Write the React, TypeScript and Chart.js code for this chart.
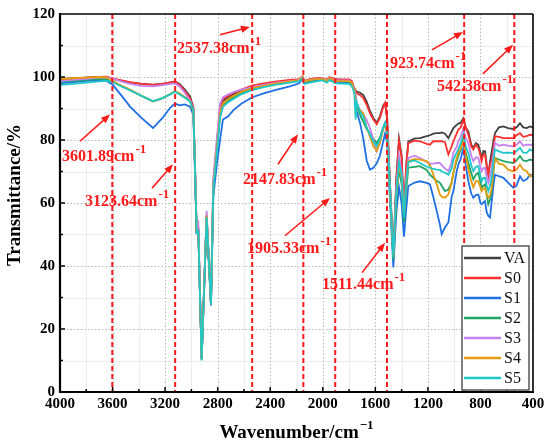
import React, { useEffect, useRef } from 'react';
import { Chart, registerables } from 'chart.js';

Chart.register(...registerables);

// ---------- data ----------
const WAVENUMBER = [
  4000, 3900, 3800, 3700, 3650, 3600, 3530, 3467, 3380, 3292, 3220, 3160, 3125, 3090, 3050, 3010, 2985,
  2973, 2960, 2947, 2922, 2884, 2851, 2833, 2807, 2782, 2760, 2720, 2680, 2620, 2540, 2450, 2350, 2250, 2180, 2155, 2140, 2100, 2050, 2000, 1970, 1950, 1900, 1850,
  1800, 1780, 1760, 1750, 1742, 1717, 1692, 1666, 1641, 1615, 1590, 1565, 1540, 1526, 1510, 1490, 1463, 1440, 1420, 1400, 1382, 1365, 1349,
  1300, 1260, 1209, 1184, 1159, 1133, 1108, 1095, 1070, 1044, 1019, 1006, 981, 968, 950, 930, 912, 892, 870, 854, 835, 816, 800, 791, 778, 765, 752, 740, 727, 714, 700, 689, 660, 625, 590, 549, 525, 499, 475, 448, 423, 400,
];

const VA = [
  99.3, 99.6, 99.8, 100, 100, 99.4, 98.8, 98.3, 97.8, 97.6, 97.8, 98.3, 98.6, 97.8, 96.0, 93.8, 90.3,
  72, 51, 51.5, 10.5, 56, 28, 66, 78, 90, 92.5, 93.5, 94.5, 95.5, 96.5, 97.3, 98, 98.5, 99, 100, 98.6, 99.2, 99.5, 99.6, 99, 99.8, 99.2, 99.1,
  99, 98.6, 96.5, 95.8, 95.4, 95, 94.3, 92.2, 89.2, 87, 85.5, 87.5, 91, 91.8, 87, 68, 43.5, 68, 80.5, 75, 56, 72, 79.5,
  80.5, 80.6, 81.2, 81.5, 82, 82.2, 82.2, 82.4, 82, 80.6, 82.7, 83.8, 84.8, 85.2, 85.5, 86.9, 84, 82.7, 78.5, 77.5, 79, 78.5, 76, 74.3, 76.5, 76.4, 72, 69, 73, 76.4, 80, 82.2, 84, 84.3, 83.8, 83.5, 84, 85.3, 84, 83.8, 84.3, 84,
];

const S0 = [
  99.2, 99.5, 99.8, 100, 100.1, 99.6, 98.9, 98.4, 97.8, 97.5, 97.8, 98.3, 98.5, 97.5, 95.5, 93.3, 90.2,
  72, 51, 51.5, 10.5, 56, 28, 66.5, 78.5, 90.5, 93, 94, 95, 96, 97.3, 98, 98.6, 99.1, 99.3, 100.2, 98.8, 99.3, 99.6, 99.7, 99.1, 99.9, 99.3, 99.2,
  99.2, 98.8, 96.4, 95.5, 94.8, 94.3, 93.3, 91.2, 88.5, 86.5, 85, 87, 90.5, 91.7, 86.5, 67, 43, 67, 79.6, 74.5, 56, 71.5, 79,
  79.8, 79.6, 78.8, 78.5, 79.6, 79.6, 79.6, 79.6, 79.3, 75.4, 78, 79.6, 82, 83.3, 84, 86.4, 84, 81.7, 78, 77, 78.5, 77.5, 75, 73.3, 75.5, 75.4, 71.5, 69, 72.5, 73.3, 78, 81.2, 81, 80.6, 80.6, 80.6, 81.5, 82.2, 81, 81.2, 81.7, 81.5,
];

const S1 = [
  98.0, 98.4, 98.8, 99.0, 98.8, 97.6, 94.0, 90.6, 87.0, 83.8, 87.0, 90.3, 91.6, 91.0, 91.3, 90.6, 88.0,
  70, 50.5, 50.5, 10.3, 55, 27.5, 62, 72, 80, 86.5, 87.5, 89.5, 91.5, 93.5, 94.8, 96, 97, 98, 99.5, 98, 98.6, 99, 99.3, 98.6, 99.4, 98.5, 98.3,
  98.3, 97.5, 95.5, 93, 89, 85.5, 80.5, 73.5, 70.6, 71.2, 72.5, 75, 79.5, 82, 79, 62, 39.5, 57, 65, 60, 49.3, 58, 65.4,
  66.5, 66.9, 66.4, 65.9, 62, 57.5, 53, 50.1, 52.2, 53.8, 62, 63.8, 70, 72.2, 74, 77.5, 72, 66.9, 63, 61.7, 62.5, 62.7, 60, 59.6, 60.2, 60.6, 57, 55.9, 55.4, 60.6, 66, 69, 68.5, 68, 66.5, 64.8, 65.5, 68.5, 67, 67.5, 69, 68.5,
];

const S2 = [
  98.5, 98.8, 99.1, 99.4, 99.3, 98.5, 97.0, 95.8, 94.0, 92.3, 93.3, 94.6, 95.4, 94.6, 93.6, 92.5, 89.0,
  72, 51, 51, 10.3, 56, 28, 65, 76.5, 88, 91, 92.5, 93.5, 94.8, 96, 97, 97.8, 98.5, 98.9, 99.9, 98.4, 98.8, 99.2, 99.4, 98.7, 99.5, 98.7, 98.6,
  98.5, 97.8, 96, 93, 91, 88, 85.8, 83.4, 82.2, 80.5, 79, 80.8, 84, 85.4, 82, 65, 42, 62, 70.5, 66, 54, 64, 71.2,
  71.5, 71.7, 70.5, 69, 68, 67, 66.4, 65.5, 63.8, 64.3, 66.5, 69.6, 73.3, 75, 77, 80.6, 76, 72.7, 69.5, 67.5, 69, 69.6, 66.5, 64.8, 65.5, 65.9, 62.5, 59.6, 61, 63.8, 70.5, 74.3, 73.8, 73.3, 73, 72.7, 73.5, 74.9, 73.5, 73.3, 73.8, 73.5,
];

const S3 = [
  98.8, 99.1, 99.4, 99.8, 99.9, 99.5, 98.5, 97.8, 97.2, 97.0, 97.4, 97.8, 98.0, 97.0, 95.0, 92.5, 89.5,
  73, 52, 53.5, 10.8, 57.5, 28.5, 68, 80, 91.5, 93.5, 94.5, 95.2, 96, 96.8, 97.5, 98.2, 98.7, 99.1, 100, 98.6, 99.1, 99.4, 99.6, 98.9, 99.7, 99, 98.9,
  98.9, 98.2, 96.5, 94.5, 92, 89.5, 88.2, 86.4, 83.8, 80, 76.5, 79.5, 83.5, 85.2, 82.5, 66, 44, 65, 75, 70, 56, 67.5, 74.3,
  75, 74.3, 73, 72.5, 72.5, 72.7, 72.7, 72, 71, 70.1, 73, 76, 77.8, 79.6, 81, 83.7, 80.5, 79.1, 75, 73.3, 74.5, 74.3, 71.5, 70.1, 71, 71.2, 68, 66.4, 68.5, 71.2, 76, 79.1, 78.2, 78.5, 78.2, 78, 78.5, 79.6, 78.2, 78.5, 78.5, 78.5,
];

const S4 = [
  99.3, 99.6, 99.8, 100, 99.9, 98.8, 97.2, 96.0, 94.0, 92.2, 93.3, 94.6, 95.5, 94.8, 93.6, 92.3, 89.0,
  72, 51, 51, 10.4, 56, 28, 65.5, 77, 88.5, 91.5, 93, 94, 95.3, 96.5, 97.2, 98, 98.6, 99, 100, 98.5, 99, 99.3, 99.5, 98.8, 99.6, 98.8, 98.7,
  98.7, 98.2, 96, 93, 91, 89.5, 88.5, 84, 81, 78, 76.6, 79, 83.5, 85, 82, 65, 43, 63, 72, 68, 56.5, 66, 73.3,
  74, 73.8, 73.3, 72, 69, 66, 62.7, 62, 61.7, 62.7, 66.4, 69.6, 74.3, 76, 77.5, 79.6, 75, 70.6, 67, 65, 67, 66.9, 65, 63.8, 64.5, 64.8, 62.5, 61.7, 62.5, 64.8, 71, 74.3, 72.5, 72.2, 70.6, 70.1, 70.6, 72.2, 70.6, 70.1, 68.4, 69,
];

const S5 = [
  97.5, 97.8, 98.2, 98.6, 98.8, 98.4, 97.0, 95.8, 94.0, 92.3, 93.3, 94.5, 95.3, 94.5, 93.4, 92.2, 89.5,
  71.5, 50.5, 51, 10, 55.5, 27.8, 64.5, 75.5, 87, 90.5, 92, 93, 94.5, 95.8, 96.8, 97.6, 98.2, 98.7, 99.6, 97.8, 98.2, 98.6, 98.9, 98.2, 99, 98, 97.9,
  97.8, 97.2, 95, 86.5, 92, 89, 87.5, 84, 81.7, 79.5, 78, 80.2, 84, 85.5, 82.5, 66, 42.7, 64, 73, 69, 55.5, 66.5, 73,
  73.5, 72.7, 71.5, 71.2, 70.8, 70.6, 70.5, 70, 69.6, 69, 71, 73.8, 76, 77, 79, 81.7, 78, 75.9, 72, 70.1, 71.5, 71.7, 68.5, 66.9, 68, 68, 65.5, 63.8, 65.5, 68, 74, 77, 76.4, 75.9, 76, 75.9, 76.5, 77.5, 76, 75.9, 77, 76.5,
];

const SERIES_NAMES = ['VA', 'S0', 'S1', 'S2', 'S3', 'S4', 'S5'];
const SERIES_VALUES = [VA, S0, S1, S2, S3, S4, S5];
const SERIES_COLORS = ['#404040', '#ff3030', '#1f6fe5', '#1fa463', '#c582f0', '#e39c0e', '#1fc8c8'];

const X_MAJOR = [3600, 3200, 2800, 2400, 2000, 1600, 1200, 800];
const X_MINOR = [3800, 3400, 3000, 2600, 2200, 1800, 1400, 1000, 600];
const Y_MAJOR = [20, 40, 60, 80, 100];
const Y_MINOR = [10, 30, 50, 70, 90, 110];

const MARKERS = [3601.89, 3123.64, 2537.38, 2147.83, 1905.33, 1511.44, 923.74, 542.38];
// label anchor (left, baseline) and arrow tail / head, in data coordinates
const LABEL_AT = [[3985, 73.3], [3810, 59.0], [3109, 107.7], [2607, 66.0], [2577, 44.2], [2006, 32.8], [1488, 102.9], [1131, 95.4]];
const ARROW_FROM = [[3848, 79.6], [3300, 64.7], [2782, 113.4], [2341, 72.3], [2288, 49.6], [1701, 37.9], [1169, 108.6], [781, 101.0]];
const ARROW_TO = [[3619, 88.1], [3140, 72.3], [2554, 115.9], [2189, 81.8], [1945, 61.6], [1526, 47.4], [933, 114.3], [552, 110.2]];

const RED = '#ff1a1a';
const SERIF = '"Liberation Serif", "Times New Roman", serif';

function drawArrow(ctx: CanvasRenderingContext2D, x1: number, y1: number, x2: number, y2: number) {
  const ang = Math.atan2(y2 - y1, x2 - x1);
  const head = 9;
  const hw = 3.6;
  const c = Math.cos(ang);
  const s = Math.sin(ang);
  ctx.beginPath();
  ctx.moveTo(x1, y1);
  ctx.lineTo(x2 - head * 0.7 * c, y2 - head * 0.7 * s);
  ctx.stroke();
  ctx.beginPath();
  ctx.moveTo(x2, y2);
  ctx.lineTo(x2 - head * c + hw * s, y2 - head * s - hw * c);
  ctx.lineTo(x2 - head * c - hw * s, y2 - head * s + hw * c);
  ctx.closePath();
  ctx.fill();
}

const decorPlugin = {
  id: 'decor',
  beforeDatasetsDraw(chart: any) {
    const { ctx, chartArea: a, scales } = chart;
    const x = scales.x;
    const y = scales.y;
    ctx.save();
    ctx.lineWidth = 1;
    ctx.strokeStyle = '#ececec';
    ctx.setLineDash([]);
    for (const v of X_MINOR) {
      const px = Math.round(x.getPixelForValue(v)) + 0.5;
      ctx.beginPath(); ctx.moveTo(px, a.top); ctx.lineTo(px, a.bottom); ctx.stroke();
    }
    for (const v of Y_MINOR) {
      const py = Math.round(y.getPixelForValue(v)) + 0.5;
      ctx.beginPath(); ctx.moveTo(a.left, py); ctx.lineTo(a.right, py); ctx.stroke();
    }
    ctx.strokeStyle = '#b8b8b8';
    ctx.setLineDash([1.5, 2]);
    for (const v of X_MAJOR) {
      const px = Math.round(x.getPixelForValue(v)) + 0.5;
      ctx.beginPath(); ctx.moveTo(px, a.top); ctx.lineTo(px, a.bottom); ctx.stroke();
    }
    for (const v of Y_MAJOR) {
      const py = Math.round(y.getPixelForValue(v)) + 0.5;
      ctx.beginPath(); ctx.moveTo(a.left, py); ctx.lineTo(a.right, py); ctx.stroke();
    }
    ctx.restore();
  },
  afterDatasetsDraw(chart: any) {
    const { ctx, chartArea: a, scales } = chart;
    const x = scales.x;
    const y = scales.y;
    ctx.save();

    // red dashed marker lines
    ctx.strokeStyle = RED;
    ctx.lineWidth = 2;
    ctx.setLineDash([5, 3]);
    for (const m of MARKERS) {
      const px = x.getPixelForValue(m);
      ctx.beginPath(); ctx.moveTo(px, a.top); ctx.lineTo(px, a.bottom); ctx.stroke();
    }
    ctx.setLineDash([]);

    // frame
    ctx.strokeStyle = '#000';
    ctx.lineWidth = 1.3;
    ctx.beginPath(); ctx.moveTo(a.left, a.top); ctx.lineTo(a.right, a.top); ctx.stroke();
    ctx.lineWidth = 1.6;
    ctx.beginPath(); ctx.moveTo(a.right, a.top); ctx.lineTo(a.right, a.bottom); ctx.stroke();
    ctx.lineWidth = 2.2;
    ctx.beginPath(); ctx.moveTo(a.left, a.top - 1); ctx.lineTo(a.left, a.bottom + 1); ctx.stroke();
    ctx.beginPath(); ctx.moveTo(a.left - 1, a.bottom); ctx.lineTo(a.right + 1, a.bottom); ctx.stroke();

    // inward ticks
    ctx.lineWidth = 1.5;
    const tick = (px: number, len: number) => {
      ctx.beginPath(); ctx.moveTo(px, a.bottom); ctx.lineTo(px, a.bottom - len); ctx.stroke();
    };
    X_MAJOR.forEach((v) => tick(x.getPixelForValue(v), 5));
    X_MINOR.forEach((v) => tick(x.getPixelForValue(v), 3));
    const ytick = (py: number, len: number) => {
      ctx.beginPath(); ctx.moveTo(a.left, py); ctx.lineTo(a.left + len, py); ctx.stroke();
    };
    Y_MAJOR.forEach((v) => ytick(y.getPixelForValue(v), 5));
    Y_MINOR.forEach((v) => ytick(y.getPixelForValue(v), 3));

    // annotations
    ctx.fillStyle = RED;
    ctx.strokeStyle = RED;
    ctx.lineWidth = 1.6;
    ctx.textBaseline = 'alphabetic';
    ctx.textAlign = 'left';
    MARKERS.forEach((m, i) => {
      const tx = x.getPixelForValue(LABEL_AT[i][0]);
      const ty = y.getPixelForValue(LABEL_AT[i][1]);
      const main = m.toFixed(2) + 'cm';
      ctx.font = 'bold 16px ' + SERIF;
      ctx.fillText(main, tx, ty);
      const w = ctx.measureText(main).width;
      ctx.font = 'bold 13px ' + SERIF;
      ctx.fillText('-1', tx + w + 1, ty - 8);
      drawArrow(
        ctx,
        x.getPixelForValue(ARROW_FROM[i][0]), y.getPixelForValue(ARROW_FROM[i][1]),
        x.getPixelForValue(ARROW_TO[i][0]), y.getPixelForValue(ARROW_TO[i][1])
      );
    });

    // legend
    const bw = 67;
    const bh = 144;
    const bx = a.right - bw - 4;
    const by = a.bottom - bh - 2;
    ctx.fillStyle = '#fff';
    ctx.fillRect(bx, by, bw, bh);
    ctx.strokeStyle = '#555';
    ctx.lineWidth = 1.5;
    ctx.strokeRect(bx, by, bw, bh);
    ctx.font = '16px ' + SERIF;
    ctx.textBaseline = 'middle';
    SERIES_NAMES.forEach((name, i) => {
      const ly = by + 12 + i * 20;
      ctx.strokeStyle = SERIES_COLORS[i];
      ctx.lineWidth = 2.5;
      ctx.beginPath(); ctx.moveTo(bx + 2, ly); ctx.lineTo(bx + 39, ly); ctx.stroke();
      ctx.fillStyle = '#111';
      ctx.fillText(name, bx + 42, ly + 1);
    });

    // axis titles
    ctx.fillStyle = '#000';
    ctx.font = 'bold 19px ' + SERIF;
    ctx.textBaseline = 'middle';
    ctx.textAlign = 'center';
    ctx.save();
    ctx.translate(15, (a.top + a.bottom) / 2 - 8);
    ctx.rotate(-Math.PI / 2);
    ctx.fillText('Transmittance/%', 0, 0);
    ctx.restore();

    const xt = 'Wavenumber/cm';
    const sup = '\u22121';
    ctx.textAlign = 'left';
    ctx.textBaseline = 'alphabetic';
    ctx.font = 'bold 19px ' + SERIF;
    const w1 = ctx.measureText(xt).width;
    ctx.font = 'bold 13px ' + SERIF;
    const w2 = ctx.measureText(sup).width;
    const cx = (a.left + a.right) / 2;
    const start = cx - (w1 + w2 + 1) / 2;
    const base = a.bottom + 46;
    ctx.font = 'bold 19px ' + SERIF;
    ctx.fillText(xt, start, base);
    ctx.font = 'bold 13px ' + SERIF;
    ctx.fillText(sup, start + w1 + 1, base - 9);

    ctx.restore();
  },
};

export default function App() {
  const canvasRef = useRef<HTMLCanvasElement | null>(null);

  useEffect(() => {
    document.body.style.margin = '0';
    const canvas = canvasRef.current;
    if (!canvas) return;
    const datasets = SERIES_NAMES.map((name, i) => ({
      label: name,
      data: WAVENUMBER.map((w, j) => ({ x: w, y: SERIES_VALUES[i][j] })),
      borderColor: SERIES_COLORS[i],
      backgroundColor: SERIES_COLORS[i],
      borderWidth: 1.8,
      pointRadius: 0,
      tension: 0,
      fill: false,
      order: SERIES_NAMES.length - i,
    }));
    const chart = new Chart(canvas, {
      type: 'line',
      data: { datasets },
      options: {
        animation: false,
        responsive: true,
        maintainAspectRatio: false,
        layout: { padding: { left: 0, right: 17, top: 12, bottom: 0 } },
        plugins: { legend: { display: false }, tooltip: { enabled: false } },
        scales: {
          x: {
            type: 'linear',
            reverse: true,
            min: 400,
            max: 4000,
            afterFit: (s: any) => { s.height = 53; },
            ticks: {
              stepSize: 400,
              color: '#000',
              padding: 3,
              maxRotation: 0,
              autoSkip: false,
              callback: (v: any) => String(v),
              font: { family: SERIF, size: 15, weight: 'bold' },
            },
            grid: { display: false, drawTicks: false },
            border: { display: false },
          },
          y: {
            min: 0,
            max: 120,
            afterFit: (s: any) => { s.width = 60; },
            ticks: {
              stepSize: 20,
              color: '#000',
              padding: 5,
              callback: (v: any) => String(v),
              font: { family: SERIF, size: 15, weight: 'bold' },
            },
            grid: { display: false, drawTicks: false },
            border: { display: false },
          },
        },
      } as any,
      plugins: [decorPlugin],
    });
    return () => chart.destroy();
  }, []);

  return (
    <div style={{ position: 'relative', width: '550px', height: '445px', background: '#fff' }}>
      <canvas ref={canvasRef} />
    </div>
  );
}
